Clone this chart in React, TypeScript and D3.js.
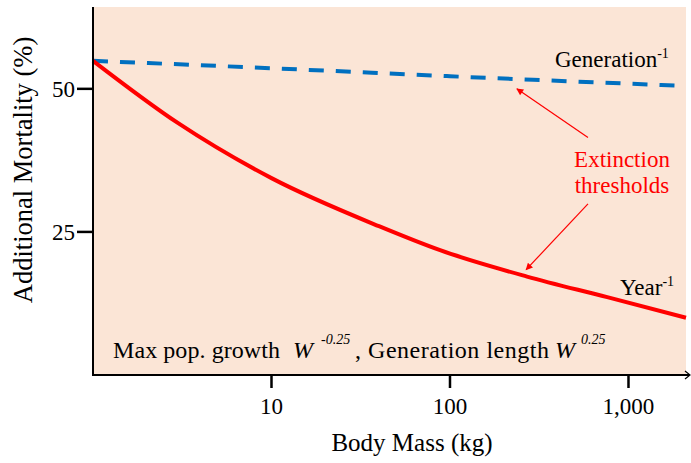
import React from "react";
import * as d3 from "d3";

// Body mass (kg) sampled along each threshold curve
const massYear = [1, 3, 10, 40, 88, 270, 760, 2100];
const mortalityYear = [54.9, 44.0, 34.4, 26.0, 21.8, 17.2, 13.6, 10.0];

const massGeneration = [1, 10, 100, 1000, 2100];
const mortalityGeneration = [54.9, 53.6, 52.2, 50.9, 50.5];

const xTicks = [10, 100, 1000];
const yTicks = [25, 50];

// annotation arrows (data coordinates): [tailMass, tailMort, headMass, headMort]
const arrowGen = [593, 41.5, 237, 50.0];
const arrowYear = [593, 29.9, 267, 18.4];

const W = 691;
const H = 463;
const FONT = "'Liberation Serif', 'Times New Roman', serif";

export default function App() {
  const x = d3.scaleLog().domain([1, 2100]).range([93, 686]);
  const y = d3.scaleLinear().domain([0, 64.3]).range([375, 7]);

  const line = d3
    .line<[number, number]>()
    .x((d) => x(d[0]))
    .y((d) => y(d[1]))
    .curve(d3.curveMonotoneX);

  const yearPath = line(massYear.map((m, i) => [m, mortalityYear[i]]));
  const genPath = line(massGeneration.map((m, i) => [m, mortalityGeneration[i]]));

  const [x0, x1] = x.range();
  const [yb, yt] = y.range();
  const fmt = d3.format(",");

  const arrow = (a: number[], key: string) => (
    <line
      key={key}
      x1={x(a[0])}
      y1={y(a[1])}
      x2={x(a[2])}
      y2={y(a[3])}
      stroke="#ff0000"
      strokeWidth={1.2}
      markerEnd="url(#arrowHead)"
    />
  );

  return (
    <svg
      width={W}
      height={H}
      style={{ position: "absolute", left: 0, top: 0 }}
      fontFamily={FONT}
    >
      <defs>
        <marker
          id="arrowHead"
          viewBox="0 0 10 10"
          refX="9"
          refY="5"
          markerWidth="8"
          markerHeight="7"
          markerUnits="userSpaceOnUse"
          orient="auto"
        >
          <path d="M0,0 L10,5 L0,10 z" fill="#ff0000" />
        </marker>
      </defs>
      <rect x={x0} y={yt} width={x1 - x0} height={yb - yt} fill="#fbe5d6" />

      <path d={genPath || ""} fill="none" stroke="#0070c0" strokeWidth={4} strokeDasharray="15 12" />
      <path d={yearPath || ""} fill="none" stroke="#ff0000" strokeWidth={4} />

      {/* axes */}
      <line x1={x0} y1={yt} x2={x0} y2={yb + 1} stroke="#000" strokeWidth={2} />
      <line x1={x0 - 1} y1={yb} x2={x1 + 3} y2={yb} stroke="#000" strokeWidth={2} />
      <path
        d={`M${x1 - 1},${yb - 4} L${x1 + 4},${yb} L${x1 - 1},${yb + 4}`}
        fill="none"
        stroke="#000"
        strokeWidth={1.2}
      />

      {yTicks.map((t) => (
        <g key={"y" + t}>
          <line x1={x0 - 16} x2={x0} y1={y(t)} y2={y(t)} stroke="#000" strokeWidth={2.5} />
          <text x={x0 - 18} y={y(t)} dy="0.35em" textAnchor="end" fontSize={23}>
            {t}
          </text>
        </g>
      ))}
      {xTicks.map((t) => (
        <g key={"x" + t}>
          <line x1={x(t)} x2={x(t)} y1={yb} y2={yb + 13} stroke="#000" strokeWidth={2.5} />
          <text x={x(t)} y={yb + 39} textAnchor="middle" fontSize={23}>
            {fmt(t)}
          </text>
        </g>
      ))}

      <text x={412} y={451} textAnchor="middle" fontSize={25}>
        Body Mass (kg)
      </text>
      <text
        transform={`translate(32,${170}) rotate(-90)`}
        textAnchor="middle"
        fontSize={26.5}
      >
        Additional Mortality (%)
      </text>

      {/* curve labels */}
      <text x={555} y={67} fontSize={23}>
        Generation
        <tspan dy={-9} fontSize={14}>-1</tspan>
      </text>
      <text x={620} y={295} fontSize={23}>
        Year
        <tspan dy={-9} fontSize={14}>-1</tspan>
      </text>

      <text x={622} y={167} textAnchor="middle" fontSize={23} fill="#ff0000">
        Extinction
      </text>
      <text x={622} y={193} textAnchor="middle" fontSize={23} fill="#ff0000">
        thresholds
      </text>
      {arrow(arrowGen, "ag")}
      {arrow(arrowYear, "ay")}

      {/* scaling note */}
      <text x={113} y={358} fontSize={24} textLength={167} lengthAdjust="spacing">
        Max pop. growth
      </text>
      <text x={293} y={358} fontSize={24} fontStyle="italic">W</text>
      <text x={321} y={344} fontSize={14} fontStyle="italic">-0.25</text>
      <text x={355} y={358} fontSize={24} textLength={194} lengthAdjust="spacing">
        , Generation length
      </text>
      <text x={555} y={358} fontSize={24} fontStyle="italic">W</text>
      <text x={581} y={344} fontSize={14} fontStyle="italic">0.25</text>
    </svg>
  );
}
